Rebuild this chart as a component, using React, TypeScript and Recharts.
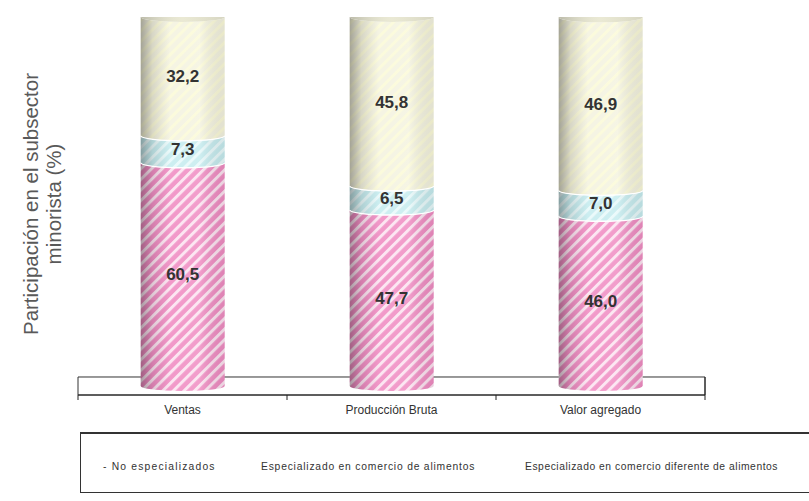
import React from 'react';
import { BarChart, Bar, XAxis, YAxis, LabelList, ReferenceArea, Legend } from 'recharts';

const categories = ['Ventas', 'Producción Bruta', 'Valor agregado'];
const noEspecializados = [60.5, 47.7, 46.0];
const espAlimentos = [7.3, 6.5, 7.0];
const espDiferente = [32.2, 45.8, 46.9];
const seriesNames = [
  'No especializados',
  'Especializado en comercio de alimentos',
  'Especializado en comercio diferente de alimentos',
];

const data = categories.map((c, i) => ({
  name: c,
  a: noEspecializados[i],
  b: espAlimentos[i],
  c: espDiferente[i],
}));

const RY = 5;

const makeShape = (patternId: string, topFaceColor: string | null, isBottom: boolean) => (props: any) => {
  const { x, y, width, height } = props;
  if (width == null || height == null) return null;
  const rx = width / 2;
  const yb = y + height;
  const body = `M ${x},${y} A ${rx},${RY} 0 0 0 ${x + width},${y} L ${x + width},${yb} A ${rx},${RY} 0 0 1 ${x},${yb} Z`;
  return (
    <g>
      <path d={body} fill={`url(#${patternId})`} />
      <path d={body} fill="url(#cylShade)" />
      {!isBottom && (
        <path d={`M ${x},${yb} A ${rx},${RY} 0 0 0 ${x + width},${yb}`} fill="none" stroke="#ffffff" strokeWidth={1.3} />
      )}
      {topFaceColor && (
        <g>
          <ellipse cx={x + rx} cy={y} rx={rx} ry={RY} fill={topFaceColor} />
          <ellipse cx={x + rx} cy={y} rx={rx} ry={RY} fill="url(#topShade)" />
        </g>
      )}
    </g>
  );
};

const fmt = (v: any) => Number(v).toFixed(1).replace('.', ',');

const CategoryTick = (props: any) => {
  const { x, y, payload, index, visibleTicksCount } = props;
  const off = payload && payload.offset ? payload.offset : 0;
  const isLast = index === (visibleTicksCount ? visibleTicksCount - 1 : 2);
  return (
    <g>
      <line x1={x - off} y1={y} x2={x - off} y2={y + 5} stroke="#222" strokeWidth={1} />
      {isLast && <line x1={x + off} y1={y - 18} x2={x + off} y2={y + 5} stroke="#222" strokeWidth={1} />}
      <text x={x} y={y + 19} textAnchor="middle" fontSize={12} fill="#333" fontFamily="Liberation Sans, Arial, sans-serif">
        {payload.value}
      </text>
    </g>
  );
};

const YLabel = (props: any) => {
  const vb = props.viewBox || { x: 0, y: 17, width: 78, height: 378 };
  const cy = vb.y + vb.height / 2 - 2;
  const l1x = 38;
  const l2x = 61;
  const style = { fontSize: 20.5, fill: '#595959', fontFamily: 'Liberation Sans, Arial, sans-serif' };
  return (
    <g>
      <text x={l1x} y={cy} transform={`rotate(-90, ${l1x}, ${cy})`} textAnchor="middle" {...style}>
        Participación en el subsector
      </text>
      <text x={l2x} y={cy} transform={`rotate(-90, ${l2x}, ${cy})`} textAnchor="middle" {...style}>
        minorista (%)
      </text>
    </g>
  );
};

const LegendContent = () => (
  <div
    style={{
      position: 'relative',
      width: 740,
      height: 61,
      borderTop: '2px solid #333',
      borderLeft: '1px solid #333',
      borderBottom: '1px solid #333',
      boxSizing: 'border-box',
      fontFamily: 'Liberation Sans, Arial, sans-serif',
      fontSize: 10.3,
      color: '#333',
    }}
  >
    {seriesNames.map((n, i) => (
      <span
        key={n}
        style={{
          position: 'absolute',
          top: 27,
          left: [22, 180, 444][i],
          letterSpacing: [1.2, 0.8, 0.55][i],
          whiteSpace: 'nowrap',
        }}
      >
        {i === 0 ? '- ' : ''}
        {n}
      </span>
    ))}
  </div>
);

export default function App() {
  return (
    <div style={{ position: 'absolute', left: 0, top: 0, width: 809, height: 501, background: '#fff', overflow: 'hidden' }}>
      <svg width={0} height={0} style={{ position: 'absolute' }}>
        <defs>
          <pattern id="pinkStripes" patternUnits="userSpaceOnUse" width={7.5} height={7.5} patternTransform="rotate(45)">
            <rect width={7.5} height={7.5} fill="#F08DC3" />
            <rect width={3} height={7.5} fill="#FCE3F0" />
          </pattern>
          <pattern id="tealStripes" patternUnits="userSpaceOnUse" width={7.5} height={7.5} patternTransform="rotate(45)">
            <rect width={7.5} height={7.5} fill="#C6ECEF" />
            <rect width={3} height={7.5} fill="#E8F9FA" />
          </pattern>
          <pattern id="yellowStripes" patternUnits="userSpaceOnUse" width={7.5} height={7.5} patternTransform="rotate(45)">
            <rect width={7.5} height={7.5} fill="#F4F3E0" />
            <rect width={3} height={7.5} fill="#FBFAD8" />
          </pattern>
          <linearGradient id="cylShade" x1="0" y1="0" x2="1" y2="0">
            <stop offset="0%" stopColor="#000" stopOpacity={0.33} />
            <stop offset="14%" stopColor="#000" stopOpacity={0.12} />
            <stop offset="35%" stopColor="#fff" stopOpacity={0.1} />
            <stop offset="70%" stopColor="#fff" stopOpacity={0.15} />
            <stop offset="100%" stopColor="#000" stopOpacity={0.07} />
          </linearGradient>
          <linearGradient id="topShade" x1="0" y1="0" x2="1" y2="0">
            <stop offset="0%" stopColor="#000" stopOpacity={0.2} />
            <stop offset="50%" stopColor="#fff" stopOpacity={0.05} />
            <stop offset="100%" stopColor="#000" stopOpacity={0.08} />
          </linearGradient>
        </defs>
      </svg>
      <BarChart
        width={809}
        height={501}
        data={data}
        margin={{ top: 17, right: 104, bottom: 76, left: 0 }}
        barCategoryGap="30%"
      >
        <YAxis
          width={78}
          domain={[-2.44, 100]}
          allowDataOverflow
          tick={false}
          axisLine={false}
          tickLine={false}
          label={{ content: (p: any) => <YLabel {...p} /> }}
        />
        <XAxis
          dataKey="name"
          height={30}
          tickLine={false}
          tickSize={0}
          tickMargin={0}
          axisLine={{ stroke: '#222', strokeWidth: 1 }}
          tick={<CategoryTick />}
          interval={0}
        />
        <ReferenceArea y1={-2.44} y2={2.44} fill="#ffffff" fillOpacity={1} stroke="#333" strokeWidth={1} ifOverflow="visible" />
        <Bar dataKey="a" name={seriesNames[0]} stackId="s" isAnimationActive={false} shape={makeShape('pinkStripes', null, true)}>
          <LabelList dataKey="a" position="center" formatter={fmt} fill="#333" fontSize={17} fontWeight="bold" fontFamily="Liberation Sans, Arial, sans-serif" />
        </Bar>
        <Bar dataKey="b" name={seriesNames[1]} stackId="s" isAnimationActive={false} shape={makeShape('tealStripes', null, false)}>
          <LabelList dataKey="b" position="center" formatter={fmt} fill="#333" fontSize={17} fontWeight="bold" fontFamily="Liberation Sans, Arial, sans-serif" />
        </Bar>
        <Bar dataKey="c" name={seriesNames[2]} stackId="s" isAnimationActive={false} shape={makeShape('yellowStripes', '#E9E8D2', false)}>
          <LabelList dataKey="c" position="center" formatter={fmt} fill="#333" fontSize={17} fontWeight="bold" fontFamily="Liberation Sans, Arial, sans-serif" />
        </Bar>
        <Legend
          layout="horizontal"
          verticalAlign="middle"
          align="center"
          content={() => <LegendContent />}
          wrapperStyle={{ position: 'absolute', left: 80, top: 432, width: 740, height: 61 }}
        />
      </BarChart>
    </div>
  );
}
